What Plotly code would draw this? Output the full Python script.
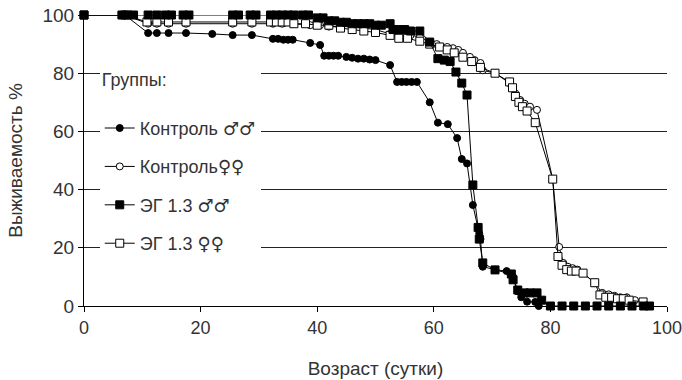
import plotly.graph_objects as go

# Контроль ♂♂ (filled circles)
ctrl_m_x = [0, 7, 11, 12.5, 14.5, 17.5, 22, 25.5, 28.8, 32.4, 33.3, 34.2, 35, 35.8, 38.8, 40.5, 41.2, 42, 42.8, 43.6,
            45, 46, 47, 48, 49, 50, 52.5, 53.7, 54.5, 55.3, 56.2, 57.1, 59.3, 60.7, 62.4, 64, 64.8, 65.7, 66.7, 67.6,
            67.8, 68, 68.4, 70.5, 72.5, 73.6, 74.4, 75, 76, 77.4, 78]
ctrl_m_y = [100, 100, 93.8, 93.8, 93.8, 93.8, 93.5, 93.1, 93.1, 91.8, 91.8, 91.5, 91.5, 91.5, 90.4, 89.7, 86, 86, 86, 86,
            85.6, 85.3, 85, 85, 84.7, 84.5, 82.8, 77, 77, 77, 77, 77, 70, 63, 62.5, 57.7, 50.5, 49, 34.7, 27,
            25, 23, 13.5, 12.5, 12, 10, 5, 3, 1.5, 1.4, 0]

# Контроль ♀♀ (open circles)
ctrl_f_x = [0, 7, 11, 12.5, 14.5, 17.5, 25.5, 28.8, 32.4, 34, 35.8, 38.8, 40.5, 42, 44, 46, 48, 50, 52.5, 54, 56, 57.6,
            59.3, 60.5, 62.3, 63.3, 64.2, 65, 66.2, 67, 68, 68.4, 70.5, 73, 74, 74.8, 75.6, 76.5, 77.7, 80.4, 81.5, 82.2,
            83, 83.8, 84.6, 85.6, 87.6, 88.9, 90, 91, 92, 93.1, 94.5]
ctrl_f_y = [100, 100, 97, 97, 97, 97, 97, 97, 97, 97, 97, 96.5, 96.5, 96, 96, 96, 95.5, 95, 93.5, 93, 93, 92.5,
            90.7, 90, 89, 88.6, 88, 87, 85.6, 84.5, 83.5, 81, 80, 76.6, 73, 70.8, 69.5, 68.5, 67.4, 43.6, 20.3, 14.8,
            13.5, 13, 12.5, 11.3, 7.9, 4.5, 4, 3.5, 3, 3, 2]

# ЭГ 1.3 ♂♂ (filled squares)
eg_m_x = [0, 6.5, 7.5, 8.5, 11, 12.5, 14, 15, 17, 18, 25.5, 26.5, 28.5, 29.5, 32, 33, 34, 35, 36, 37.5, 38.5, 40, 41,
          42, 43, 44, 45, 46, 47, 48, 49, 50, 51, 52.5, 53, 54, 55, 56, 57.6, 59.3, 60.7, 61.8, 62.8, 63.8, 64.8, 65.7,
          66.7, 67.6, 67.8, 68.4, 70.5, 73.3, 73.6, 74.4, 75.5, 76.5, 77.7, 78.5, 80, 82, 84, 86, 88, 90, 92, 94, 96, 97]
eg_m_y = [100, 100, 100, 100, 100, 100, 100, 100, 100, 100, 100, 100, 100, 100, 100, 100, 100, 100, 100, 100, 100, 99,
          99, 98, 98, 97.5, 97.5, 97, 97, 97, 97, 96.5, 96.5, 97, 95, 95, 95, 94.5, 94.5, 90.7, 85, 84.5, 84, 80.4, 76.6,
          72.5, 41.6, 27, 23, 14.8, 12.4, 11, 9, 5.5, 4.5, 4.5, 4.5, 2, 0, 0, 0, 0, 0, 0, 0, 0, 0, 0]

# ЭГ 1.3 ♀♀ (open squares)
eg_f_x = [0, 7, 10.8, 12.5, 14.5, 17.5, 25.5, 28.8, 32, 33, 34, 35, 36, 38, 40, 42, 44, 46, 48, 50, 52.5, 54, 55.5,
          57.6, 59.3, 61, 62.3, 63.5, 65, 66.5, 68, 70.5, 73, 73.5, 74, 74.6, 75.2, 76, 77.4, 80.4, 81.3, 82, 82.8,
          83.6, 84.4, 85.6, 87.6, 88.5, 89.5, 90.5, 91.5, 92.5, 93.5, 95.9]
eg_f_y = [100, 100, 97.6, 97.6, 97.6, 97.6, 97.6, 97.6, 97.6, 97.6, 97.6, 97.6, 97, 97, 96.5, 96.5, 95.5, 95, 94.5,
          94, 93, 92, 92, 91, 90, 89, 88, 87, 85.5, 84, 82, 80, 77, 75, 72, 70, 68.5, 67, 63, 43.6, 17, 14, 12.5,
          12, 12, 11.3, 8, 3.8, 3, 3, 2.5, 2.5, 2, 1.4]

SYM = '<span style="font-family:DejaVu Sans">{}</span>'
names = ["Контроль " + SYM.format("♂♂"), "Контроль" + SYM.format("♀♀"),
         "ЭГ 1.3 " + SYM.format("♂♂"), "ЭГ 1.3 " + SYM.format("♀♀")]
x_ticks = [0, 20, 40, 60, 80, 100]
y_ticks = [0, 20, 40, 60, 80, 100]

FONT = "Liberation Sans, Arial, sans-serif"
TXT = "#333"
fig = go.Figure()

def add(x, y, name, symbol, filled, rank, size):
    fig.add_trace(go.Scatter(
        x=x, y=y, name=name, mode="lines+markers", legendrank=rank, legendgroup=name,
        line=dict(color="black", width=1),
        marker=dict(symbol=symbol, size=size, color="black" if filled else "white",
                    line=dict(color="black", width=1)),
        cliponaxis=False,
    ))

add(ctrl_f_x, ctrl_f_y, names[1], "circle", False, 2, 7)
add(eg_f_x, eg_f_y, names[3], "square", False, 4, 8)
add(ctrl_m_x, ctrl_m_y, names[0], "circle", True, 1, 7)
add(eg_m_x, eg_m_y, names[2], "square", True, 3, 8)

fig.update_layout(
    width=682, height=380,
    margin=dict(l=84, r=15, t=15, b=74),
    plot_bgcolor="white", paper_bgcolor="white",
    font=dict(family=FONT, size=18, color=TXT),
    showlegend=True,
    legend=dict(
        title=dict(text="Группы:<br> ", font=dict(size=18, color=TXT)),
        x=0.027, y=0.835, xanchor="left", yanchor="top",
        bgcolor="white", borderwidth=0,
        traceorder="grouped", tracegroupgap=12,
        font=dict(size=18, color=TXT),
        itemwidth=30,
    ),
    xaxis=dict(
        range=[0, 100], tickvals=x_ticks, showgrid=False, zeroline=False,
        showline=True, linecolor="black", linewidth=1, automargin=False,
        ticks="outside", ticklen=5, tickcolor="black", ticklabeloverflow="allow",
        tickfont=dict(size=18, color=TXT),
        title=dict(text="Возраст (сутки)", font=dict(size=19, color=TXT), standoff=25),
    ),
    yaxis=dict(
        range=[0, 100], tickvals=y_ticks, showgrid=True, gridcolor="#222", gridwidth=1,
        zeroline=False, showline=True, linecolor="black", linewidth=1, automargin=False,
        ticks="outside", ticklen=5, tickcolor="black",
        tickfont=dict(size=19, color=TXT),
        title=dict(text="Выживаемость %", font=dict(size=19, color=TXT), standoff=14),
    ),
)

fig.write_html("out.html")
